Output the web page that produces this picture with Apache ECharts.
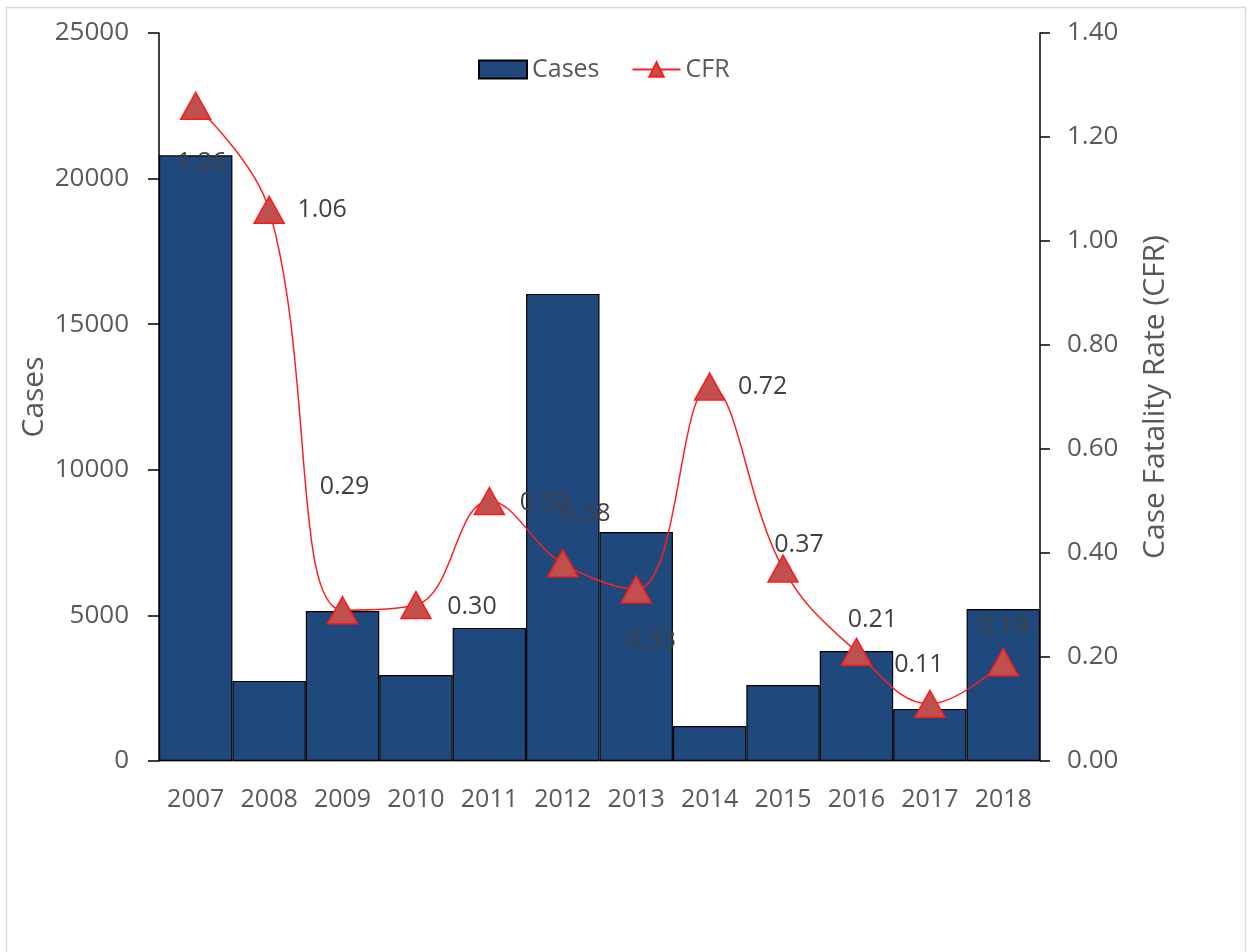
<!DOCTYPE html>
<html><head><meta charset="utf-8">
<script src="https://cdn.jsdelivr.net/npm/echarts@6/dist/echarts.min.js"></script>
<style>html,body{margin:0;padding:0;background:#fff}#c{width:1252px;height:952px}</style>
</head><body><div id="c"></div>
<script>
const years = ['2007','2008','2009','2010','2011','2012','2013','2014','2015','2016','2017','2018'];
const cases = [20800, 2750, 5150, 2950, 4570, 16040, 7860, 1200, 2610, 3780, 1790, 5220];
const cfr = [1.26, 1.06, 0.29, 0.30, 0.50, 0.38, 0.33, 0.72, 0.37, 0.21, 0.11, 0.19];
const casesTicks = [0, 5000, 10000, 15000, 20000, 25000];
const cfrTicks = [0, 0.2, 0.4, 0.6, 0.8, 1.0, 1.2, 1.4];
const labelOffsets = [[6,57],[53,0],[2,-123],[56,2],[55,2],[23,-50],[15,51],[53,0],[16,-24],[16,-32],[-11,-39],[0,-35]];

const FONT = '"Open Sans", "Noto Sans", sans-serif';
const TXT = '#595959';
const chart = echarts.init(document.getElementById('c'), null, {renderer:'canvas'});
chart.setOption({
  animation:false,
  backgroundColor:'#fff',
  graphic:[{type:'rect', shape:{x:6.5,y:7.5,width:1239,height:1000}, style:{fill:'none', stroke:'#d9d9d9', lineWidth:1.5}, z:-1}],
  legend:{
    top:52, left:473, itemGap:32, itemWidth:48, itemHeight:18,
    textStyle:{color:TXT, fontFamily:FONT, fontSize:25},
    data:[{name:'Cases', icon:'rect'}, {name:'CFR'}]
  },
  grid:{left:159, right:212, top:33, bottom:191},
  xAxis:{
    type:'category', data:years,
    axisLine:{lineStyle:{color:'#8c8c8c', width:1.5}},
    axisTick:{show:false},
    axisLabel:{color:TXT, fontFamily:FONT, fontSize:25, margin:26, interval:0, hideOverlap:false}
  },
  yAxis:[{
    type:'value', min:0, max:25000, interval:5000, name:'Cases',
    nameLocation:'middle', nameRotate:90, nameGap:110, nameMoveOverlap:false,
    nameTextStyle:{color:TXT, fontFamily:FONT, fontSize:30},
    axisLine:{show:true, lineStyle:{color:'#000', width:1.5}},
    axisTick:{show:true, inside:false, length:11, lineStyle:{color:'#000', width:1.5}},
    axisLabel:{color:TXT, fontFamily:FONT, fontSize:26, margin:30, formatter:v=>casesTicks.includes(v)?String(v):''},
    splitLine:{show:false}
  },{
    type:'value', min:0, max:1.4, interval:0.2, name:'Case Fatality Rate (CFR)', position:'right',
    nameLocation:'middle', nameRotate:90, nameGap:100,
    nameTextStyle:{color:TXT, fontFamily:FONT, fontSize:30},
    axisLine:{show:true, lineStyle:{color:'#000', width:1.5}},
    axisTick:{show:true, inside:false, length:10, lineStyle:{color:'#000', width:1.5}},
    axisLabel:{color:TXT, fontFamily:FONT, fontSize:26, margin:27, formatter:v=>v.toFixed(2)},
    splitLine:{show:false}
  }],
  series:[{
    name:'Cases', type:'bar', data:cases, barGap:'0%', barCategoryGap:'0%',
    itemStyle:{color:'#1f497d', borderColor:'#000', borderWidth:1.2},
    z:2
  },{
    name:'CFR', type:'line', yAxisIndex:1, smooth:0.4,
    symbol:'triangle', symbolSize:[30,27],
    lineStyle:{color:'#ff1f1f', width:1.5},
    itemStyle:{color:'#c0504d', borderColor:'#ff1a1a', borderWidth:1.5},
    data:cfr.map((v,i)=>({value:v, label:{show:true, position:'inside', offset:labelOffsets[i]}})),
    label:{show:true, color:'#404040', fontFamily:FONT, fontSize:25, formatter:p=>p.value.toFixed(2)},
    z:3
  }]
});
</script></body></html>
